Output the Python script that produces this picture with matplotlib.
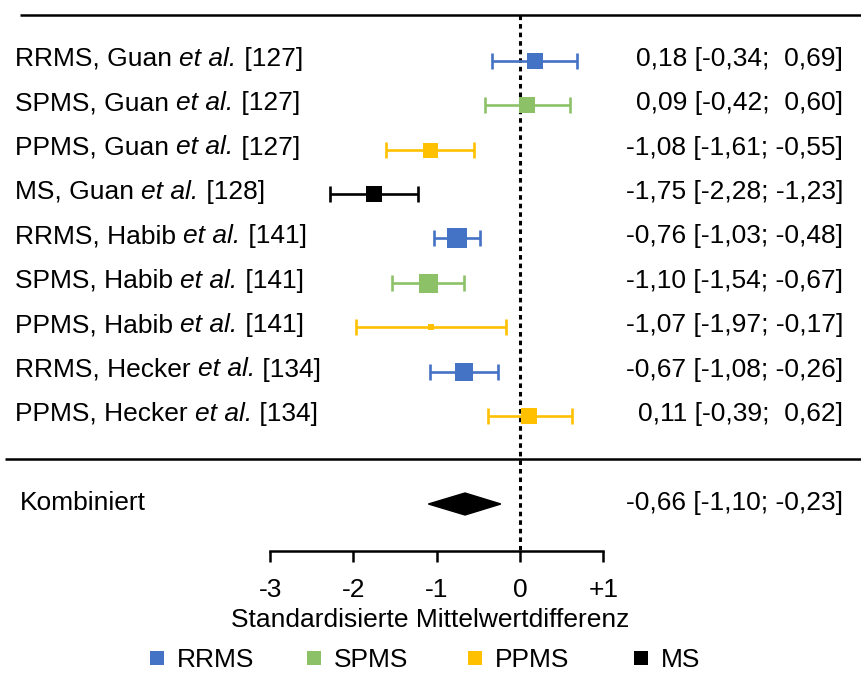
import matplotlib
matplotlib.use("Agg")
import matplotlib.pyplot as plt
from matplotlib.lines import Line2D
from matplotlib.patches import Polygon

plt.rcParams['font.family'] = ['Liberation Sans', 'DejaVu Sans']

# ---- data ----
types = ["RRMS", "SPMS", "PPMS", "MS", "RRMS", "SPMS", "PPMS", "RRMS", "PPMS"]
authors = ["Guan", "Guan", "Guan", "Guan", "Habib", "Habib", "Habib", "Hecker", "Hecker"]
refs = ["127", "127", "127", "128", "141", "141", "141", "134", "134"]
est = [0.18, 0.09, -1.08, -1.75, -0.76, -1.10, -1.07, -0.67, 0.11]
lo = [-0.34, -0.42, -1.61, -2.28, -1.03, -1.54, -1.97, -1.08, -0.39]
hi = [0.69, 0.60, -0.55, -1.23, -0.48, -0.67, -0.17, -0.26, 0.62]
weights = [16, 16, 15, 16, 20.5, 19, 6, 18.3, 16]  # marker size in px
ci_text = ["0,18 [-0,34;  0,69]", "0,09 [-0,42;  0,60]", "-1,08 [-1,61; -0,55]",
           "-1,75 [-2,28; -1,23]", "-0,76 [-1,03; -0,48]", "-1,10 [-1,54; -0,67]",
           "-1,07 [-1,97; -0,17]", "-0,67 [-1,08; -0,26]", "0,11 [-0,39;  0,62]"]
comb_est, comb_lo, comb_hi = -0.66, -1.10, -0.23
comb_text = "-0,66 [-1,10; -0,23]"
ticks = [-3, -2, -1, 0, 1]
tick_labels = ["-3", "-2", "-1", "0", "+1"]
legend_keys = ["RRMS", "SPMS", "PPMS", "MS"]
colors = {"RRMS": "#4472C4", "SPMS": "#8CC168", "PPMS": "#FFC000", "MS": "#000000"}

# ---- layout (pixel-based frame) ----
W, H = 862, 673
px_per_unit = 83.3
zero_px = 520.0
X0 = -zero_px / px_per_unit
X1 = (W - zero_px) / px_per_unit

def px(x):
    return X0 + x / px_per_unit

fig = plt.figure(figsize=(W / 100, H / 100), dpi=100)
ax = fig.add_axes([0, 0, 1, 1])
ax.set_xlim(X0, X1)
ax.set_ylim(H, 0)
for s in ["top", "left", "right"]:
    ax.spines[s].set_visible(False)
ax.spines["bottom"].set_position(("data", 550.5))
ax.spines["bottom"].set_bounds(-3, 1)
ax.spines["bottom"].set_linewidth(1.8)
ax.set_yticks([])
ax.set_xticks(ticks)
fs = 19
ax.set_xticklabels(tick_labels, fontsize=fs)
ax.tick_params(axis="x", direction="out", length=8, width=1.8, pad=12)

row_y = [60.7 + 44.4 * i for i in range(len(est))]
comb_y = 504

# top line and separator
ax.plot([px(20), X1], [15, 15], color="black", lw=1.8, solid_capstyle="butt")
ax.plot([px(5), X1], [459, 459], color="black", lw=1.8, solid_capstyle="butt")

# zero reference dotted line
ax.plot([0, 0], [15, 550], color="black", lw=2.2, linestyle=(0, (1.5, 1.3)))

fig.canvas.draw()
renderer = fig.canvas.get_renderer()

for i in range(len(est)):
    c = colors[types[i]]
    y = row_y[i]
    ax.errorbar(est[i], y, xerr=[[est[i] - lo[i]], [hi[i] - est[i]]], fmt="none",
                ecolor=c, elinewidth=1.9, capsize=5.8, capthick=1.9, zorder=3)
    ax.plot(est[i], y, marker="s", ls="none", color=c, markersize=weights[i] * 0.72,
            markeredgewidth=0, zorder=4)
    # label with italic "et al."
    parts = [(f"{types[i]}, {authors[i]} ", "normal"), ("et al.", "italic"),
             (f" [{refs[i]}]", "normal")]
    xcur = 15
    for txt, st in parts:
        t = ax.text(px(xcur), y - 2, txt, fontsize=fs, va="center", ha="left", style=st)
        ex = t.get_window_extent(renderer)
        xcur += ex.width
    ax.text(px(843), y - 2, ci_text[i], fontsize=fs, va="center", ha="right")

# combined diamond
dh = 11
diamond = Polygon([[comb_lo, comb_y], [comb_est, comb_y - dh], [comb_hi, comb_y],
                   [comb_est, comb_y + dh]], closed=True, facecolor="black",
                  edgecolor="black", zorder=4)
ax.add_patch(diamond)
ax.text(px(20), comb_y - 1, "Kombiniert", fontsize=fs, va="center", ha="left")
ax.text(px(843), comb_y - 1, comb_text, fontsize=fs, va="center", ha="right")

# x label
ax.text(px(430), 620, "Standardisierte Mittelwertdifferenz", fontsize=fs,
        ha="center", va="center")

# legend: one entry per legend so each sits where the reference puts it
legend_marker_px = [157, 314, 475, 641]
hl = 0.7
half_handle_px = hl * fs * 100 / 72 / 2
for k, mx in zip(legend_keys, legend_marker_px):
    h = Line2D([], [], marker="s", ls="none", color=colors[k], markersize=9.4,
               markeredgewidth=0, label=k)
    leg = fig.legend(handles=[h], loc="center left",
                     bbox_to_anchor=((mx - half_handle_px) / W, 1 - 660 / H),
                     frameon=False, fontsize=fs, handlelength=hl, handletextpad=0.42,
                     borderpad=0, borderaxespad=0)

fig.savefig("out.png", dpi=100)
